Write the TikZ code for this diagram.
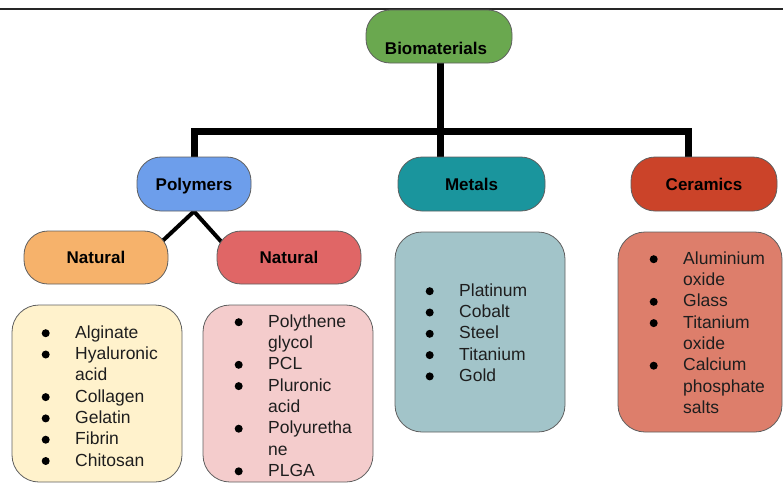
\documentclass[tikz,border=0pt]{standalone}
\usepackage{fontspec}
\setmainfont{Liberation Sans}
\definecolor{cbio}{HTML}{6AA84F}
\definecolor{cpoly}{HTML}{6D9EEB}
\definecolor{cmet}{HTML}{1A959D}
\definecolor{ccer}{HTML}{CB4329}
\definecolor{cnatl}{HTML}{F6B26B}
\definecolor{cnatr}{HTML}{E06666}
\definecolor{clistl}{HTML}{FFF2CC}
\definecolor{clistm}{HTML}{F4CCCC}
\definecolor{clistme}{HTML}{A2C4C9}
\definecolor{clistc}{HTML}{DD7E6B}
\definecolor{bordergray}{HTML}{5F5F5F}
\definecolor{textgray}{HTML}{1E1E1E}
\pgfdeclarelayer{bg}
\pgfsetlayers{bg,main}
\newcommand\dotb{\tikz[baseline=0pt]\fill[black] (0pt,5pt) circle (4pt);}
\newcommand\bt{\llap{\dotb\hspace{25.5pt}}}
\tikzset{
  hdr/.style={draw=bordergray, line width=0.8pt, rounded corners=24pt, inner sep=0pt,
    font=\fontsize{17}{20}\selectfont\bfseries, text=black, text height=12pt, text depth=0pt},
  listbox/.style={draw=bordergray, line width=0.8pt, rounded corners=27pt, inner sep=0pt},
  listtxt/.style={anchor=north west, inner sep=0pt, align=left,
    font=\fontsize{17.5}{21.3}\selectfont, text=textgray},
  conn/.style={line width=7pt, black, line join=miter},
  thinconn/.style={line width=4pt, black},
}
\begin{document}
\begin{tikzpicture}[x=1pt, y=-1pt]
\useasboundingbox (0,0) rectangle (783,483);
% top rule
\draw[line width=1.3pt, black!85] (0,9) -- (783,9);
% header nodes
\node[hdr, fill=cbio, minimum width=146pt, minimum height=53pt] (bio) at (439,36.5) {};
\node[anchor=base, inner sep=0pt, font=\fontsize{17}{20}\selectfont\bfseries] (biotxt) at (436,54) {Biomaterials};
\node[hdr, fill=cpoly, minimum width=114pt, minimum height=54pt] (poly) at (194,184) {Polymers};
\node[hdr, fill=cmet, minimum width=147pt, minimum height=54pt] (met) at (471.5,184) {Metals};
\node[hdr, fill=ccer, minimum width=146pt, minimum height=54pt] (cer) at (704,184) {Ceramics};
\node[hdr, fill=cnatl, minimum width=144pt, minimum height=53pt] (natl) at (96,257.5) {Natural};
\node[hdr, fill=cnatr, minimum width=144pt, minimum height=53pt] (natr) at (289,257.5) {Natural};
% list boxes
\node[listbox, fill=clistl, minimum width=170pt, minimum height=177pt] (boxl) at (97,393.5) {};
\node[listbox, fill=clistm, minimum width=170pt, minimum height=177pt] (boxm) at (288,393.5) {};
\node[listbox, fill=clistme, minimum width=170pt, minimum height=200pt] (boxme) at (480,332) {};
\node[listbox, fill=clistc, minimum width=164pt, minimum height=200pt] (boxc) at (700,332) {};
% list texts
\node[listtxt] (txtl) at (75,324) {\rule{0pt}{14pt}\bt Alginate\\ \bt Hyaluronic\\ acid\\ \bt Collagen\\ \bt Gelatin\\ \bt Fibrin\\ \bt Chitosan};
\node[listtxt] (txtm) at (268,313) {\rule{0pt}{14pt}\bt Polythene\\ glycol\\ \bt PCL\\ \bt Pluronic\\ acid\\ \bt Polyuretha\\ ne\\ \bt PLGA};
\node[listtxt] (txtme) at (459,282) {\rule{0pt}{14pt}\bt Platinum\\ \bt Cobalt\\ \bt Steel\\ \bt Titanium\\ \bt Gold};
\node[listtxt] (txtc) at (683,250) {\rule{0pt}{14pt}\bt Aluminium\\ oxide\\ \bt Glass\\ \bt Titanium\\ oxide\\ \bt Calcium\\ phosphate\\ salts};
% connectors
\coordinate (jl) at (194,131);
\coordinate (jc) at (440,131);
\coordinate (jr) at (688,131);
\begin{pgfonlayer}{bg}
\draw[conn] (jc |- bio.south) -- (jc |- met.north);
\draw[conn] (poly.north) -- (jl) -- (jr) -- (jr |- cer.north);
\draw[thinconn] (poly.south) -- ([xshift=-13pt,yshift=-17pt]natl.north east);
\draw[thinconn] (poly.south) -- ([xshift=10pt,yshift=-17pt]natr.north west);
\end{pgfonlayer}
\end{tikzpicture}
\end{document}
